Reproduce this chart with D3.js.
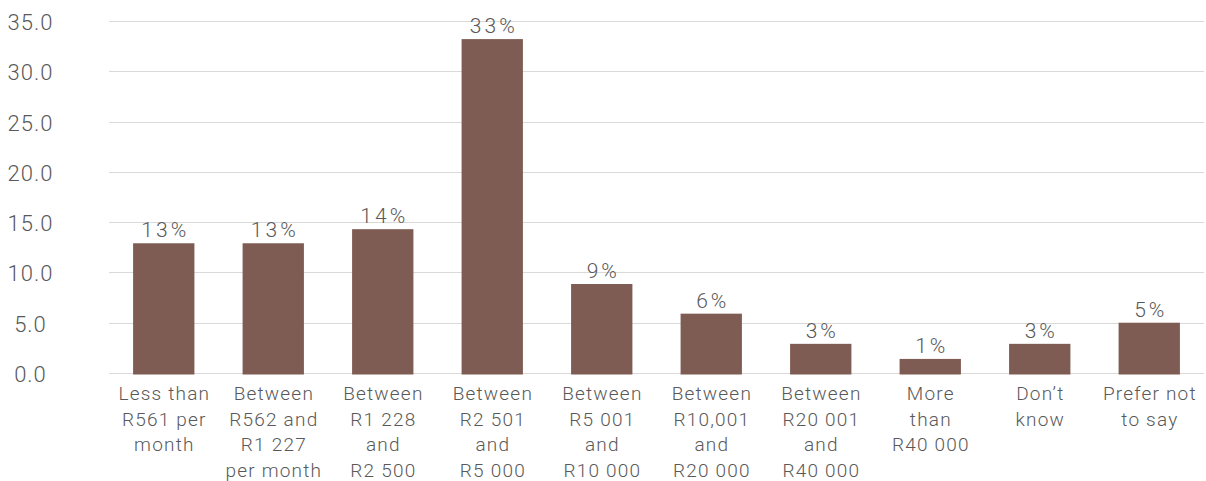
<!DOCTYPE html>
<meta charset='utf-8'>
<style>
    body { margin: 0; background: #fff; }
    text { font-family: Roboto, 'Helvetica Neue', Arial, sans-serif; font-weight: 300; fill: #595959; }
</style>
<body>
    <script src='https://d3js.org/d3.v7.min.js'></script>
    <script>
        var width = 1206,
            height = 481;

        // data
        var categories = [
            ['Less than', 'R561 per', 'month'],
            ['Between', 'R562 and', 'R1 227', 'per month'],
            ['Between', 'R1 228', 'and', 'R2 500'],
            ['Between', 'R2 501', 'and', 'R5 000'],
            ['Between', 'R5 001', 'and', 'R10 000'],
            ['Between', 'R10,001', 'and', 'R20 000'],
            ['Between', 'R20 001', 'and', 'R40 000'],
            ['More', 'than', 'R40 000'],
            ['Don\u2019t', 'know'],
            ['Prefer not', 'to say']
        ];
        var values = [12.9, 12.9, 14.3, 33.2, 8.85, 5.9, 2.9, 1.4, 2.9, 5.0];
        var valueLabels = ['13%', '13%', '14%', '33%', '9%', '6%', '3%', '1%', '3%', '5%'];
        var yTicks = [0, 5, 10, 15, 20, 25, 30, 35];

        var svg = d3.select('body').append('svg')
            .attr('width', width)
            .attr('height', height);

        var x = d3.scaleBand()
            .domain(d3.range(categories.length))
            .range([109, 1204])
            .paddingInner(0.44)
            .paddingOuter(0.22);

        var y = d3.scaleLinear()
            .domain([0, 35])
            .range([373, 21]);

        // gridlines
        svg.selectAll('line.grid').data(yTicks).enter().append('line')
            .attr('class', 'grid')
            .attr('x1', 109).attr('x2', 1204)
            .attr('y1', function(d) { return Math.round(y(d)) + 0.5; })
            .attr('y2', function(d) { return Math.round(y(d)) + 0.5; })
            .attr('stroke', '#d9d9d9')
            .attr('stroke-width', 1);

        // y labels
        svg.selectAll('text.ytick').data(yTicks).enter().append('text')
            .attr('class', 'ytick')
            .attr('x', 30.5)
            .attr('y', function(d) { return y(d) + 9; })
            .attr('text-anchor', 'middle')
            .style('font-size', '22px')
            .style('letter-spacing', '1px')
            .text(function(d) { return d.toFixed(1); });

        // bars
        svg.selectAll('rect.bar').data(values).enter().append('rect')
            .attr('class', 'bar')
            .attr('x', function(d, i) { return x(i); })
            .attr('width', x.bandwidth())
            .attr('y', function(d) { return y(d); })
            .attr('height', function(d) { return y(0) - y(d) + 1.5; })
            .attr('fill', '#7e5c53');

        // value labels
        svg.selectAll('text.val').data(values).enter().append('text')
            .attr('class', 'val')
            .attr('x', function(d, i) { return x(i) + x.bandwidth() / 2 + 1.5; })
            .attr('y', function(d) { return y(d) - 6; })
            .attr('text-anchor', 'middle')
            .style('font-size', '21px')
            .style('letter-spacing', '3px')
            .text(function(d, i) { return valueLabels[i]; });

        // category labels
        var cat = svg.selectAll('text.cat').data(categories).enter().append('text')
            .attr('class', 'cat')
            .attr('text-anchor', 'middle')
            .style('font-size', '19px')
            .style('letter-spacing', '1.2px');

        cat.selectAll('tspan').data(function(d, i) {
            return d.map(function(s) { return { s: s, i: i }; });
        }).enter().append('tspan')
            .attr('x', function(d) { return x(d.i) + x.bandwidth() / 2 + 0.6; })
            .attr('y', function(d, j) { return 400 + j * 25.5; })
            .text(function(d) { return d.s; });
    </script>
</body>
